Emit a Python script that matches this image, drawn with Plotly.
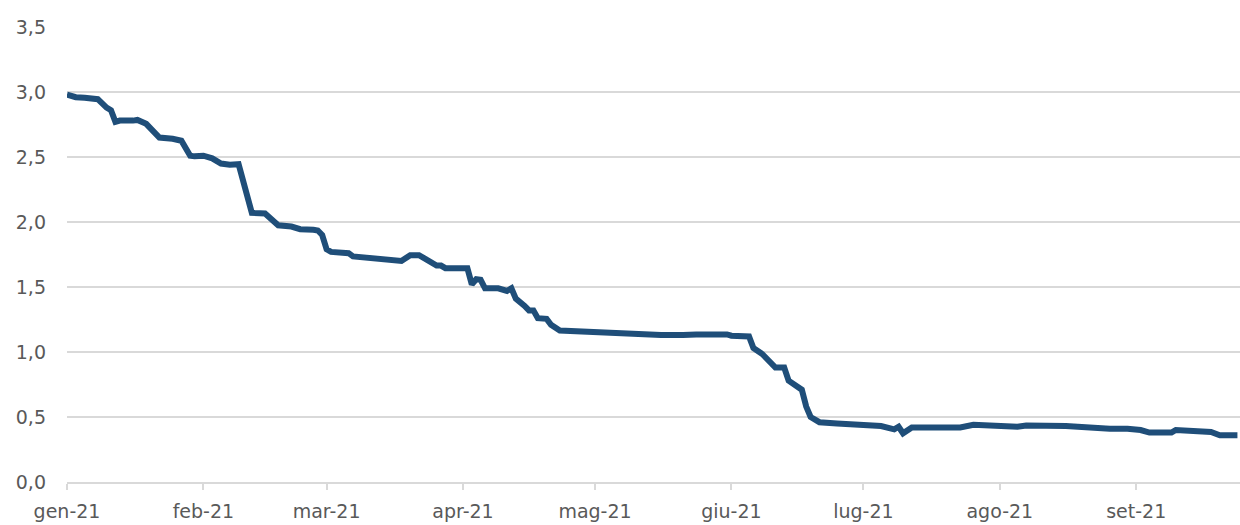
import plotly.graph_objects as go

dates = [
    "2021-01-01", "2021-01-03", "2021-01-05", "2021-01-08", "2021-01-10", "2021-01-11",
    "2021-01-12", "2021-01-13", "2021-01-16", "2021-01-17", "2021-01-19", "2021-01-22",
    "2021-01-25", "2021-01-27", "2021-01-29", "2021-01-30", "2021-02-01", "2021-02-03",
    "2021-02-05", "2021-02-07", "2021-02-09", "2021-02-12", "2021-02-15", "2021-02-18",
    "2021-02-21", "2021-02-23", "2021-02-26", "2021-02-27", "2021-02-28", "2021-03-01",
    "2021-03-02", "2021-03-06", "2021-03-07", "2021-03-11", "2021-03-15", "2021-03-18",
    "2021-03-20", "2021-03-22", "2021-03-26", "2021-03-27", "2021-03-28", "2021-04-02",
    "2021-04-03", "2021-04-04", "2021-04-05", "2021-04-06", "2021-04-09", "2021-04-11",
    "2021-04-12", "2021-04-13", "2021-04-15", "2021-04-16", "2021-04-17", "2021-04-18",
    "2021-04-20", "2021-04-21", "2021-04-23", "2021-04-26", "2021-05-02", "2021-05-09",
    "2021-05-14", "2021-05-16", "2021-05-21", "2021-05-24", "2021-05-31", "2021-06-01",
    "2021-06-05", "2021-06-06", "2021-06-08", "2021-06-11", "2021-06-13", "2021-06-14",
    "2021-06-17", "2021-06-18", "2021-06-19", "2021-06-21", "2021-06-25", "2021-07-02",
    "2021-07-05", "2021-07-08", "2021-07-09", "2021-07-10", "2021-07-12", "2021-07-23",
    "2021-07-26", "2021-08-05", "2021-08-07", "2021-08-16", "2021-08-20", "2021-08-26",
    "2021-08-30", "2021-09-02", "2021-09-04", "2021-09-09", "2021-09-10", "2021-09-17",
    "2021-09-18", "2021-09-20", "2021-09-24",
]
values = [
    2.98, 2.96, 2.955, 2.945, 2.88, 2.86,
    2.77, 2.78, 2.78, 2.785, 2.755, 2.65,
    2.64, 2.625, 2.51, 2.505, 2.51, 2.49,
    2.45, 2.44, 2.445, 2.07, 2.065, 1.975,
    1.965, 1.945, 1.94, 1.935, 1.90, 1.79,
    1.77, 1.76, 1.735, 1.72, 1.71, 1.70,
    1.745, 1.745, 1.665, 1.665, 1.645, 1.645,
    1.52, 1.56, 1.555, 1.49, 1.49, 1.47,
    1.49, 1.41, 1.355, 1.32, 1.32, 1.26,
    1.255, 1.21, 1.165, 1.16, 1.15, 1.14,
    1.125, 1.13, 1.13, 1.135, 1.135, 1.125,
    1.12, 1.03, 0.985, 0.88, 0.88, 0.78,
    0.71, 0.58, 0.50, 0.46, 0.45, 0.44,
    0.43, 0.405, 0.425, 0.375, 0.42, 0.42,
    0.44, 0.425, 0.435, 0.43, 0.42, 0.41,
    0.41, 0.40, 0.38, 0.38, 0.40, 0.395,
    0.385, 0.36, 0.36,
]

x_tick_vals = ["2021-01-01", "2021-02-01", "2021-03-01", "2021-04-01", "2021-05-01",
               "2021-06-01", "2021-07-01", "2021-08-01", "2021-09-01"]
x_tick_text = ["gen-21", "feb-21", "mar-21", "apr-21", "mag-21",
               "giu-21", "lug-21", "ago-21", "set-21"]
y_tick_vals = [0, 0.5, 1.0, 1.5, 2.0, 2.5, 3.0, 3.5]

fig = go.Figure()
fig.add_trace(go.Scatter(
    x=dates, y=values, mode="lines",
    line=dict(color="#1F4E79", width=6),
    hoverinfo="skip", showlegend=False,
))

font_family = "DejaVu Sans, sans-serif"
fig.update_layout(
    width=1240, height=525,
    margin=dict(l=67, r=0, t=27, b=43),
    paper_bgcolor="white", plot_bgcolor="white",
    separators=",.",
    font=dict(family=font_family, size=19, color="#595959"),
    showlegend=False,
)
fig.update_xaxes(
    type="date",
    range=["2021-01-01", "2021-09-24 14:00"],
    tickvals=x_tick_vals, ticktext=x_tick_text,
    showgrid=False,
    showline=True, linecolor="#d9d9d9", linewidth=2,
    ticks="outside", ticklen=6, tickcolor="#d9d9d9", tickwidth=2,
    tickfont=dict(size=19, color="#595959"),
    ticklabelstandoff=5,
    zeroline=False, automargin=False,
)
fig.update_yaxes(
    range=[0, 3.5],
    tickvals=y_tick_vals, tickformat=".1f",
    showgrid=True, gridcolor="#d9d9d9", gridwidth=1.5,
    showline=False, zeroline=False,
    ticks="", ticklabelstandoff=20,
    tickfont=dict(size=19, color="#595959"),
    automargin=False,
)

fig.write_html(
    "out.html",
    config={"displayModeBar": False},
    post_script="document.body.style.margin='0';document.body.style.overflow='hidden';",
)
